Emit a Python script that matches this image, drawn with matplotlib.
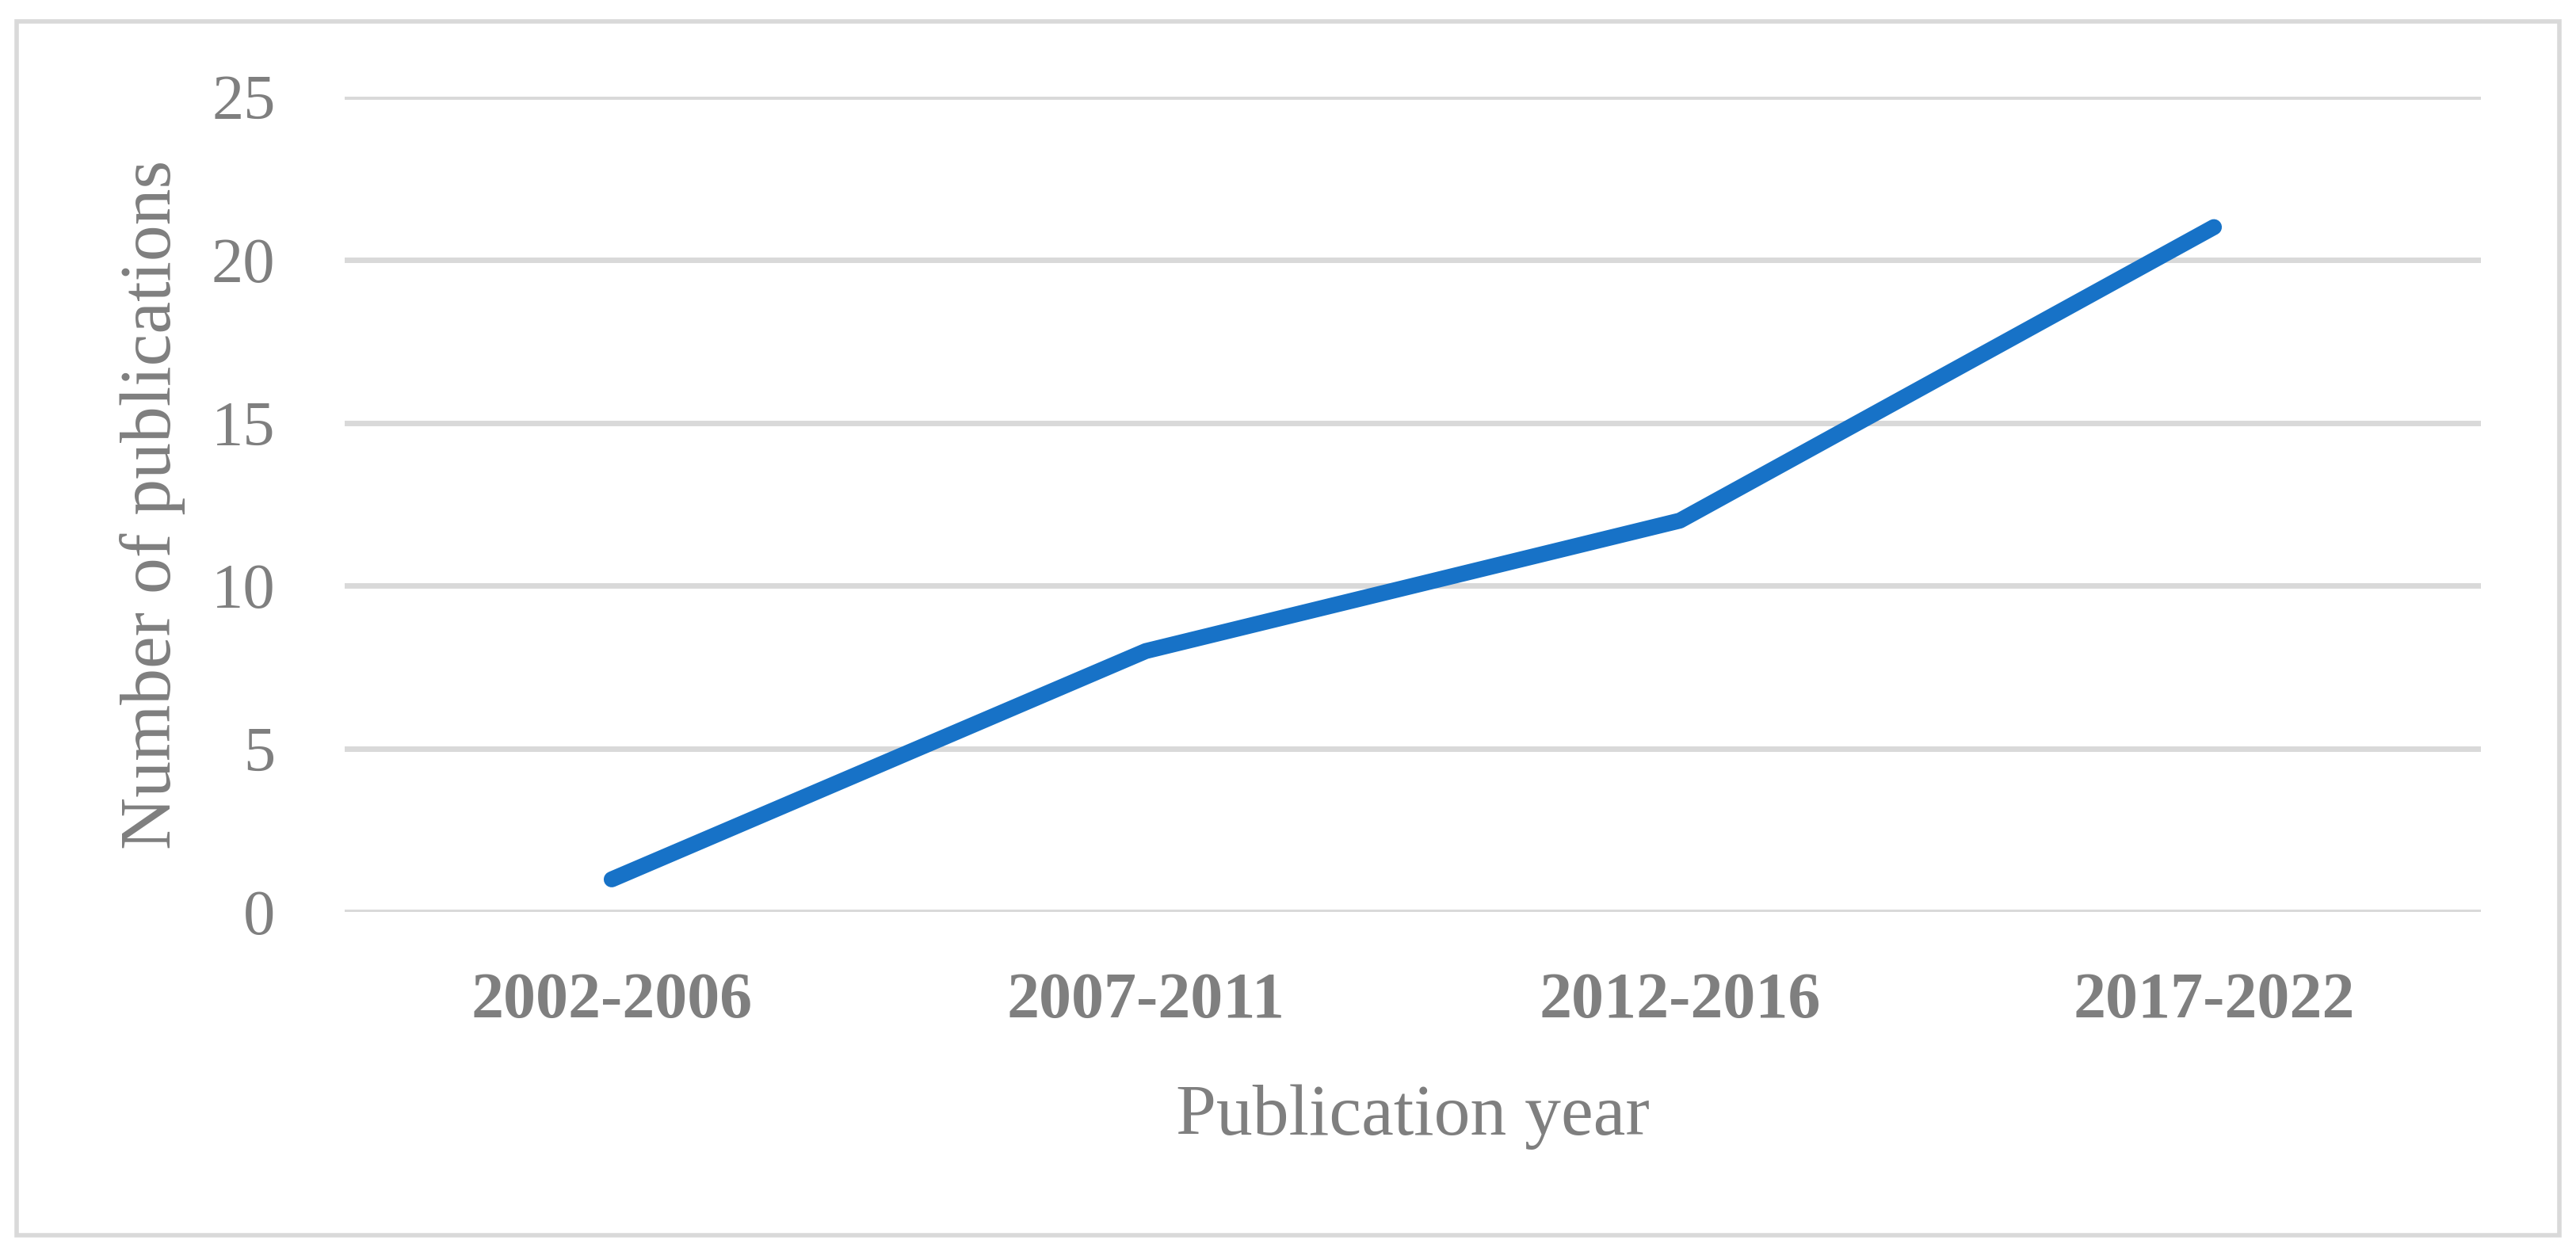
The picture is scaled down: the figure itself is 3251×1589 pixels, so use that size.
import matplotlib
matplotlib.use("Agg")
import matplotlib.pyplot as plt
from matplotlib.patches import Rectangle

# --- data ---
periods = ["2002-2006", "2007-2011", "2012-2016", "2017-2022"]
publications = [1, 8, 12, 21]
y_ticks = [0, 5, 10, 15, 20, 25]

GRAY = "#7f7f7f"
GRID = "#d9d9d9"
BLUE = "#1772c7"

plt.rcParams["font.family"] = ["Liberation Serif", "DejaVu Serif"]

W, H = 3251, 1589
fig = plt.figure(figsize=(W / 100, H / 100), dpi=100)

# axes placed by pixel position of the reference plot area
left, right, top, bottom = 435, 3131, 122, 1151
ax = fig.add_axes([left / W, 1 - bottom / H, (right - left) / W, (bottom - top) / H])

x = list(range(len(periods)))
ax.plot(x, publications, color=BLUE, linewidth=14.5,
        solid_capstyle="round", solid_joinstyle="round", zorder=3)

ax.set_xlim(-0.5, len(periods) - 0.5)
ax.set_ylim(0, 25)
ax.set_yticks(y_ticks)
ax.set_xticks(x)
ax.set_xticklabels(periods, fontweight="bold")

ax.tick_params(axis="y", length=0, pad=63, labelsize=58, labelcolor=GRAY)
ax.tick_params(axis="x", length=0, pad=55, labelsize=59, labelcolor=GRAY)

ax.grid(axis="y", color=GRID, linewidth=5)
ax.set_axisbelow(True)
for s in ax.spines.values():
    s.set_visible(False)

# axis titles
fig.text(193 / W, 1 - 637 / H, "Number of publications", rotation=90,
         ha="center", va="center", fontsize=66, color=GRAY)
fig.text(1783 / W, 1 - 1410 / H, "Publication year",
         ha="center", va="center", fontsize=66, color=GRAY)

# outer frame
fig.patches.append(Rectangle((21 / W, 1 - 1559 / H), (3230 - 21) / W, (1559 - 27) / H,
                             transform=fig.transFigure, fill=False,
                             edgecolor=GRID, linewidth=4))

fig.savefig("out.png", dpi=100, facecolor="white")
